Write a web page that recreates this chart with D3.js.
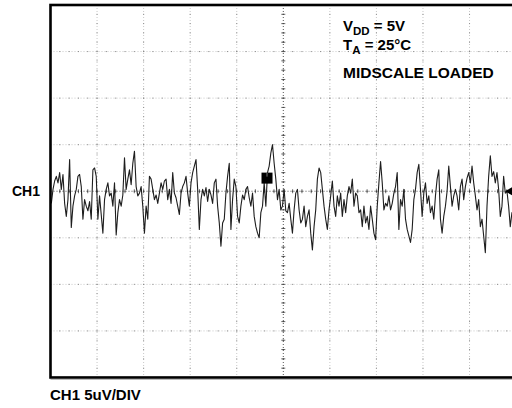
<!DOCTYPE html>
<html>
<head>
<meta charset="utf-8">
<script src="https://cdn.jsdelivr.net/npm/d3@7"></script>
<style>
body { margin: 0; background: #fff; }
text { font-family: "Liberation Sans", Arial, sans-serif; font-weight: bold; fill: #000; }
</style>
</head>
<body>
<div id="scopeDiv"></div>
<script>
// scope settings
var uvPerDiv = 5;
var divsX = 10, divsY = 8;
var chLabel = "CH1";
var scaleLabel = "CH1 5uV/DIV";
var note3 = "MIDSCALE LOADED";

// CH1 noise, in uV in four quarters (left to right)
var noiseA = [-1.3, 0.2, 1.1, 1.6, 0.9, 2.0, 0.2, 1.8, -1.3, -2.7, -0.9, 3.4, -3.9, -1.6, -0.5, 0.2, 1.6, 1.8, 0.5, -3.0,
    -0.9, -1.6, -2.1, -1.1, -3.0, 2.3, 2.5, 1.6, -3.0, -0.5, -2.5, -4.5, -0.9, 0.2, 0.9, -0.5, -0.2, -1.6, 0.9, -4.7,
    -2.3, -0.9, -1.6, -0.4, 3.6, 0.2, 1.3, 2.3, 0.7, 3.0, 4.3, 0.5, -0.5, -0.2, 0.5, -1.6, -4.5, -1.6, -3.0, 1.6,
    1.3, 0.2, -0.9, -0.4, -1.3, -0.2, 0.9, 0.2, 1.1];
var noiseB = [1.3, -0.9, 0.2, -1.3, 2.0, -0.2, -0.7, -1.6, -2.5, -0.2, 0.5, 0.9, 1.6, -0.2, -1.6, 0.9, 2.0, 2.7, 3.4, 0.2,
    -4.1, -0.9, 0.2, -0.5, 0.4, -1.1, 0.2, -0.4, -1.3, 0.9, 1.3, -1.6, -3.4, -5.9, -3.4, -3.0, -0.2, 1.6, 3.0, -4.1,
    -0.9, 1.3, 0.5, -2.7, -3.4, -1.6, -0.4, -0.9, 0.2, 0.5, -0.7, -1.6, -0.2, -2.7, -3.8, -4.5, -5.0, -2.3, -1.6, 0.9,
    -1.6, 2.0, 2.7, 4.1, 5.0, 3.0, 1.3, -0.9, 0.2, -2.0];
var noiseC = [-1.6, 0.2, -2.1, -2.3, -1.3, -3.0, -4.5, -2.0, -0.2, 0.2, -2.0, -3.4, -3.0, -1.6, -3.8, -2.7, -2.0, -4.5, -6.3, -3.8,
    -2.0, 1.3, 2.5, 2.0, 0.2, -1.6, -3.0, -4.1, -2.0, -0.5, 1.1, -1.6, -2.7, -0.5, -1.6, -0.2, -2.7, -0.9, -2.3, -0.5,
    0.5, -0.2, 1.3, -1.6, -0.2, -0.5, -2.3, -2.0, -3.8, -1.6, -3.4, -2.7, -4.1, -1.6, -3.0, -4.5, -5.2, -1.6, 0.9, 3.2,
    0.9, -2.0, -1.3, -1.6, -0.5, -2.0, -1.3, -0.2, 0.5, 2.0];
var noiseD = [-4.1, -0.9, -1.6, 0.2, -3.0, -4.1, -4.8, -5.5, -4.1, -0.9, 0.2, 2.0, 2.9, 0.2, -2.7, -0.2, 0.9, -1.3, -0.5, -2.3,
    -1.6, -3.0, -0.5, 1.3, 2.3, -3.0, -4.5, -2.7, -1.6, 0.0, 2.7, 0.5, -1.6, -0.5, 0.2, -0.5, -2.0, 0.5, 1.3, -0.9,
    0.5, 1.4, 2.0, 0.9, 2.7, 0.9, -0.5, -2.0, -0.9, -3.8, -3.0, -4.8, -6.6, -1.6, 1.6, 3.8, 1.6, 2.1, 0.9, 2.0,
    0.2, -2.7, -1.6, 1.6, -0.2, 0.0, -1.6, -3.8, -2.3, -3.0];

var noise = noiseA.concat(noiseB, noiseC, noiseD);
var nRecord = 280; // samples across the 10 divisions

var width = 512, height = 408;
var frame = { left: 50.5, top: 5, div: 46.56 };

var svg = d3.select("#scopeDiv").append("svg")
    .attr("width", width)
    .attr("height", height);

var x = d3.scaleLinear()
    .domain([0, divsX])
    .range([frame.left, frame.left + divsX * frame.div]);

var y = d3.scaleLinear()
    .domain([-uvPerDiv * divsY / 2, uvPerDiv * divsY / 2])
    .range([frame.top + divsY * frame.div, frame.top]);

var grid = svg.append("g").attr("class", "grid");

// light dotted graticule
grid.selectAll("line.v")
    .data(d3.range(1, divsX).filter(function(k) { return k != divsX / 2; }))
    .enter().append("line")
    .attr("class", "v")
    .attr("x1", function(d) { return x(d); })
    .attr("x2", function(d) { return x(d); })
    .attr("y1", y.range()[1])
    .attr("y2", y.range()[0])
    .attr("stroke", "#c8c8c8")
    .attr("stroke-dasharray", "1,2");

grid.selectAll("line.h")
    .data(d3.range(1, divsY).filter(function(k) { return k != divsY / 2; }))
    .enter().append("line")
    .attr("class", "h")
    .attr("y1", function(d) { return y(-20 + d * uvPerDiv); })
    .attr("y2", function(d) { return y(-20 + d * uvPerDiv); })
    .attr("x1", x.range()[0])
    .attr("x2", x.range()[1])
    .attr("stroke", "#c8c8c8")
    .attr("stroke-dasharray", "1,2");

// darker dots every fifth of a division on the graticule
var minorY = d3.range(1, divsY * 5).map(function(k) { return -20 + k; });
var minorX = d3.range(1, divsX * 5).map(function(k) { return k / 5; });
d3.range(1, divsX).forEach(function(k) {
    grid.selectAll(null)
        .data(minorY)
        .enter().append("rect")
        .attr("x", x(k) - 0.5)
        .attr("y", function(d) { return y(d) - 0.5; })
        .attr("width", 1).attr("height", 1)
        .attr("fill", k == divsX / 2 ? "#000" : "#888");
});
d3.range(1, divsY).forEach(function(k) {
    var v = -20 + k * uvPerDiv;
    grid.selectAll(null)
        .data(minorX)
        .enter().append("rect")
        .attr("x", function(d) { return x(d) - 0.5; })
        .attr("y", y(v) - 0.5)
        .attr("width", 1).attr("height", 1)
        .attr("fill", k == divsY / 2 ? "#000" : "#888");
});

// centre cross, darker with small ticks
grid.append("line")
    .attr("x1", x(divsX / 2)).attr("x2", x(divsX / 2))
    .attr("y1", y.range()[1]).attr("y2", y.range()[0])
    .attr("stroke", "#555").attr("stroke-dasharray", "1,2");
grid.append("line")
    .attr("y1", y(0)).attr("y2", y(0))
    .attr("x1", x.range()[0]).attr("x2", x.range()[1])
    .attr("stroke", "#555").attr("stroke-dasharray", "1,2");
grid.selectAll("line.tx")
    .data(minorY)
    .enter().append("line")
    .attr("class", "tx")
    .attr("x1", x(divsX / 2) - 2).attr("x2", x(divsX / 2) + 2)
    .attr("y1", function(d) { return y(d); })
    .attr("y2", function(d) { return y(d); })
    .attr("stroke", "#444").attr("stroke-width", 0.8);
grid.selectAll("line.ty")
    .data(minorX)
    .enter().append("line")
    .attr("class", "ty")
    .attr("y1", y(0) - 2).attr("y2", y(0) + 2)
    .attr("x1", function(d) { return x(d); })
    .attr("x2", function(d) { return x(d); })
    .attr("stroke", "#444").attr("stroke-width", 0.8);

// the trace
var line = d3.line()
    .x(function(d, i) { return x((i + 0.5) * divsX / nRecord); })
    .y(function(d) { return y(d); });

svg.append("path")
    .datum(noise)
    .attr("d", line)
    .attr("fill", "none")
    .attr("stroke", "#1e1e1e")
    .attr("stroke-width", 1.1)
    .attr("stroke-linejoin", "round");

// trigger position marker
var trigX = x(4.65);
svg.append("rect")
    .attr("x", trigX - 5.5).attr("y", y(2))
    .attr("width", 11).attr("height", 11)
    .attr("fill", "#000");
svg.append("rect")
    .attr("x", trigX - 0.5).attr("y", y(2))
    .attr("width", 1).attr("height", 4)
    .attr("fill", "#777");

// trigger level arrow on the right
svg.append("path")
    .attr("d", "M" + (width - 7) + "," + y(0) + "L" + width + "," + (y(0) - 4) + "L" + width + "," + (y(0) + 4) + "Z")
    .attr("fill", "#000");

// frame (right edge runs off the page)
svg.append("rect")
    .attr("x", x.range()[0]).attr("y", y.range()[1])
    .attr("width", x.range()[1] - x.range()[0])
    .attr("height", y.range()[0] - y.range()[1])
    .attr("fill", "none")
    .attr("stroke", "#000")
    .attr("stroke-width", 2.6);
svg.append("line")
    .attr("x1", x.range()[0]).attr("x2", width)
    .attr("y1", y.range()[0] + 2).attr("y2", y.range()[0] + 2)
    .attr("stroke", "#bbb");

// labels
svg.append("text")
    .attr("x", 40).attr("y", y(0) + 5)
    .attr("text-anchor", "end")
    .style("font-size", "14px")
    .text(chLabel);

svg.append("text")
    .attr("x", 50).attr("y", 400)
    .style("font-size", "15px")
    .text(scaleLabel);

var t1 = svg.append("text").attr("x", 343).attr("y", 31).style("font-size", "15px");
t1.append("tspan").text("V");
t1.append("tspan").attr("dy", 4).style("font-size", "11.5px").text("DD");
t1.append("tspan").attr("dy", -4).text(" = 5V");

var t2 = svg.append("text").attr("x", 343).attr("y", 50).style("font-size", "15px");
t2.append("tspan").text("T");
t2.append("tspan").attr("dy", 4).style("font-size", "11.5px").text("A");
t2.append("tspan").attr("dy", -4).text(" = 25\u00B0C");

svg.append("text")
    .attr("x", 343).attr("y", 78)
    .style("font-size", "15.5px")
    .text(note3);
</script>
</body>
</html>
